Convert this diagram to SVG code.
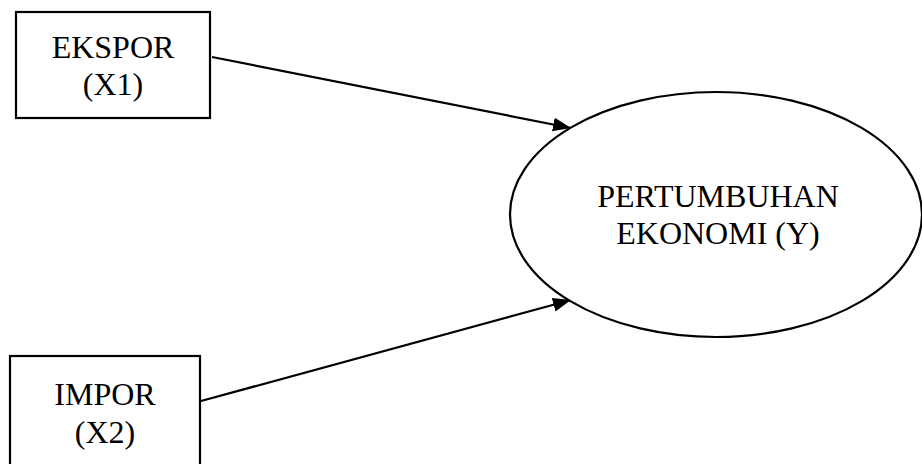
<svg xmlns="http://www.w3.org/2000/svg" width="922" height="464" viewBox="0 0 922 464">
<style>
.box{fill:#fff;stroke:#000;stroke-width:2.2}
.lbl{font-family:"Liberation Serif","Times New Roman",serif;font-size:32px;fill:#000;text-anchor:middle}
.conn{stroke:#000;stroke-width:2.2;fill:none}
</style>
<defs>
<marker id="arr" markerUnits="userSpaceOnUse" markerWidth="20" markerHeight="16" refX="18" refY="7" orient="auto">
<path d="M0,0 L18,7 L0,14 Z" fill="#000"/>
</marker>
</defs>
<rect width="922" height="464" fill="#fff"/>
<g id="connectors">
<line class="conn" x1="212" y1="57" x2="571" y2="128" marker-end="url(#arr)"/>
<line class="conn" x1="201" y1="401" x2="571" y2="300" marker-end="url(#arr)"/>
</g>
<g id="ekspor">
<rect class="box" x="16" y="12" width="194" height="106"/>
<text class="lbl" x="113" y="58">EKSPOR</text>
<text class="lbl" x="113" y="95">(X1)</text>
</g>
<g id="impor">
<rect class="box" x="10" y="356" width="190" height="120"/>
<text class="lbl" x="105" y="405">IMPOR</text>
<text class="lbl" x="105" y="443">(X2)</text>
</g>
<g id="pertumbuhan">
<ellipse class="box" cx="716" cy="214.5" rx="206" ry="122.5"/>
<text class="lbl" x="718" y="207">PERTUMBUHAN</text>
<text class="lbl" x="718" y="244">EKONOMI (Y)</text>
</g>
</svg>
